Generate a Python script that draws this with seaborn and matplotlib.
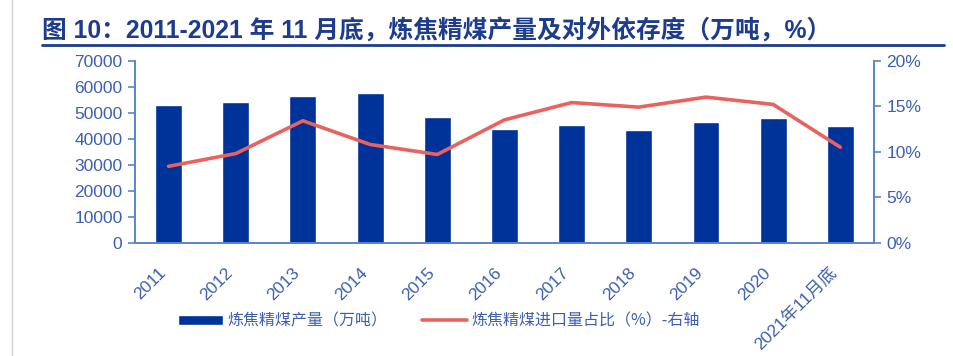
import numpy as np
import pandas as pd
import matplotlib
matplotlib.use("Agg")
import matplotlib.pyplot as plt
import seaborn as sns
from matplotlib.ticker import FuncFormatter

# data
years = ["2011", "2012", "2013", "2014", "2015", "2016", "2017", "2018", "2019", "2020", "2021年11月底"]
output = [53000, 54200, 56400, 57700, 48500, 43800, 45100, 43500, 46400, 48000, 44800]  # 万吨
import_share = [8.4, 9.8, 13.4, 10.8, 9.7, 13.5, 15.4, 14.9, 16.0, 15.2, 10.5]  # %

bar_label = "炼焦精煤产量（万吨）"
line_label = "炼焦精煤进口量占比（%）-右轴"
title = "图 10：2011-2021 年 11 月底，炼焦精煤产量及对外依存度（万吨，%）"

df = pd.DataFrame({"year": years, "output": output, "share": import_share})

sns.set_style("white")
plt.rcParams['font.family'] = ['Liberation Sans', 'Noto Sans CJK SC', 'DejaVu Sans']

bar_color = "#003399"
line_color = "#E8625F"
axis_color = "#5A83CF"
text_color = "#3C5FAE"
title_color = "#1D3C8E"

fig = plt.figure(figsize=(9.54, 3.56), dpi=100)
ax = fig.add_axes([0.1415, 0.318, 0.7745, 0.5115])
ax2 = ax.twinx()

sns.barplot(data=df, x="year", y="output", ax=ax, color=bar_color, width=0.4,
            saturation=1, label=bar_label)
sns.lineplot(data=df, x="year", y="share", ax=ax2, color=line_color, linewidth=2.6,
             label=line_label, sort=False)

ax.set_xlim(-0.5, len(years) - 0.5)
ax.set_ylim(0, 70000)
ax.set_yticks(range(0, 70001, 10000))
ax2.set_ylim(0, 20)
ax2.set_yticks([0, 5, 10, 15, 20])
ax2.yaxis.set_major_formatter(FuncFormatter(lambda v, p: f"{v:.0f}%"))

ax.set_xlabel("")
ax.set_ylabel("")
ax2.set_ylabel("")

# category labels, ticks on the boundaries
ax.set_xticks(range(len(years)))
ax.set_xticklabels(years, rotation=45, ha="right", va="top")
ax.set_xticks(np.arange(-0.5, len(years), 1), minor=True)
ax.tick_params(axis="x", which="major", length=0, pad=16, labelsize=12.5, labelcolor=text_color)
ax.tick_params(axis="x", which="minor", length=5, width=1.2, color=axis_color)
ax.tick_params(axis="y", length=5, width=1.2, color=axis_color, labelsize=12.5, labelcolor=text_color, pad=4)
ax2.tick_params(axis="y", length=5, width=1.2, color=axis_color, labelsize=12.5, labelcolor=text_color, pad=4)

for a in (ax, ax2):
    a.spines["top"].set_visible(False)
    for s in ("left", "right", "bottom"):
        a.spines[s].set_color(axis_color)
        a.spines[s].set_linewidth(1.2)
    a.grid(False)

# legend below the plot
h1, l1 = ax.get_legend_handles_labels()
h2, l2 = ax2.get_legend_handles_labels()
if ax.get_legend():
    ax.get_legend().remove()
if ax2.get_legend():
    ax2.get_legend().remove()
fig.legend(h1 + h2, l1 + l2, loc="center left", bbox_to_anchor=(0.172, 0.098), ncol=2,
           frameon=False, handlelength=2.8, handleheight=0.6,
           handletextpad=0.25, columnspacing=2.2, labelcolor=text_color,
           prop={"family": ["Noto Sans CJK SC"], "size": 11.5})

# title and rule
fig.text(0.044, 0.915, title, fontsize=17.8, fontweight="bold", color=title_color,
         family=["Liberation Sans", "Noto Sans CJK SC"], va="center")
fig.add_artist(plt.Line2D([0.044, 0.99], [0.873, 0.873], color=title_color, linewidth=2))
fig.add_artist(plt.Line2D([0.013, 0.013], [0.0, 1.0], color="#D0D0D0", linewidth=1))

fig.savefig("out.png", dpi=100)
